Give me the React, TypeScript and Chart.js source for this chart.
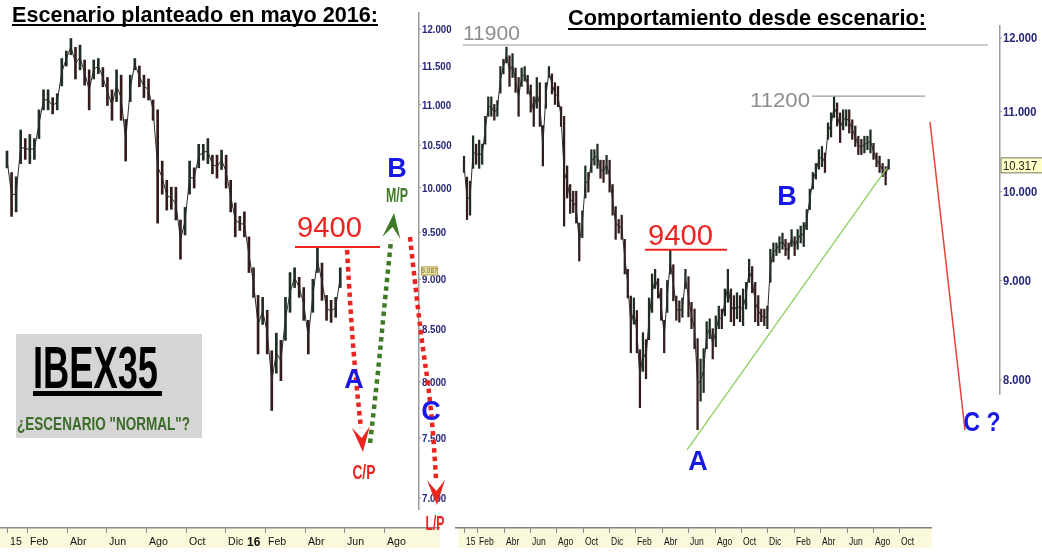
import React, { useEffect, useRef } from 'react';
import { Chart, registerables } from 'chart.js';

Chart.register(...registerables);

// ---------------- data (weekly IBEX 35 ranges, first week = 2 Jan 2015) ----------------
const WEEK_HIGH = [
  10430, 10175, 10125, 10685, 10580, 10630, 10580, 10935, 11190, 11190,
  11090, 11140, 11600, 11700, 11870, 11750, 11780, 11580, 11450, 11580,
  11600, 11480, 11350, 11190, 11450, 11380, 10815, 11380, 11600, 11500,
  11380, 11330, 11060, 10935, 10310, 10085, 10005, 10005, 9635, 9775,
  10310, 10230, 10510, 10510, 10580, 10380, 10380, 10440, 10380, 10085,
  9825, 9675, 9725, 9450, 9120, 8835, 8815, 8685, 8290, 8460,
  8390, 8815, 9070, 9120, 9020, 8915, 8585, 9000, 9330, 9170,
  8835, 8785, 8815, 9120,
  9040, 8770, 8700, 8400, 8200, 8300, 8570, 8600, 8500, 8630,
  8730, 8700, 8910, 9120, 8910, 8840, 8870, 8840, 8910, 8980,
  9230, 9150, 8980, 8840, 8700, 8700, 8730, 9340, 9410, 9410,
  9480, 9520, 9450, 9410, 9560, 9480, 9560, 9600, 9640, 9790,
  10030, 10230, 10340, 10510, 10550, 10470, 10850, 10980, 11190, 11110,
  10980, 11020, 11020, 11020, 10890, 10810, 10680, 10640, 10680, 10680,
  10760, 10590, 10470, 10430, 10340, 10300, 10390,
];
const WEEK_LOW = [
  10230, 9675, 9725, 10280, 10330, 10280, 10330, 10580, 10935, 10935,
  10885, 10935, 11240, 11500, 11650, 11330, 11450, 11250, 10935, 11330,
  11400, 11230, 10990, 10805, 11040, 10805, 10310, 11040, 11450, 11230,
  11090, 11060, 10805, 9600, 9925, 9745, 9755, 9635, 9210, 9470,
  9925, 9995, 10230, 10320, 10280, 10160, 10110, 10210, 9995, 9725,
  9450, 9520, 9450, 9070, 8815, 8260, 8545, 8260, 7740, 8080,
  8010, 8390, 8665, 8915, 8815, 8585, 8260, 8665, 9070, 8785,
  8585, 8565, 8615, 8915,
  8620, 8500, 8300, 7540, 7800, 7880, 8300, 8400, 8200, 8320,
  8500, 8500, 8630, 8770, 8570, 8530, 8600, 8570, 8530, 8700,
  8980, 8870, 8570, 8530, 8570, 8530, 8500, 8980, 9200, 9270,
  9300, 9340, 9270, 9230, 9370, 9270, 9340, 9410, 9370, 9560,
  9790, 10030, 10150, 10270, 10300, 10230, 10640, 10670, 10920, 10810,
  10600, 10760, 10810, 10720, 10640, 10550, 10450, 10450, 10470, 10510,
  10470, 10390, 10300, 10230, 10180, 10080, 10270,
];
const LEFT_LAST_WEEK = 73; // scenario drawn at end of May 2016
const WEEKS_PER_YEAR = 52.18;

// x values are months since 1 Jan 2015
const LEFT_TICK_MONTHS = [0, 1, 3, 5, 7, 9, 11, 12, 13, 15, 17, 19];
const LEFT_TICK_LABELS = ['15', 'Feb', 'Abr', 'Jun', 'Ago', 'Oct', 'Dic', '16', 'Feb', 'Abr', 'Jun', 'Ago'];
const RIGHT_TICK_MONTHS = [0, 1, 3, 5, 7, 9, 11, 13, 15, 17, 19, 21, 23, 25, 27, 29, 31, 33];
const RIGHT_TICK_LABELS = ['15', 'Feb', 'Abr', 'Jun', 'Ago', 'Oct', 'Dic', 'Feb', 'Abr', 'Jun', 'Ago', 'Oct', 'Dic', 'Feb', 'Abr', 'Jun', 'Ago', 'Oct'];
const LEFT_PRICE_TICKS = [12000, 11500, 11000, 10500, 10000, 9500, 9000, 8500, 8000, 7500, 7000];
const RIGHT_PRICE_TICKS = [12000, 11000, 10000, 9000, 8000];
const LEFT_LAST_PRICE = 9087;
const RIGHT_LAST_PRICE = 10317;

// annotations, in [month, price]
const LEFT_LEVEL_9400 = [[14.51, 9340], [18.79, 9340]];
const LEFT_PATH_A = [[17.13, 9309], [17.33, 8588], [17.58, 8016], [17.83, 7585]];
const LEFT_TIP_A = [17.93, 7380];
const LEFT_PATH_B = [[18.29, 7456], [18.64, 7988], [19.04, 8788], [19.35, 9417]];
const LEFT_TIP_B = [19.5, 9713];
const LEFT_PATH_C = [[20.3, 9448], [20.65, 8787], [20.96, 8296], [21.21, 7988], [21.46, 7568], [21.61, 7161]];
const LEFT_TIP_C = [21.66, 6943];

const RIGHT_LEVEL_11900 = [[-0.08, 11900], [39.73, 11900]];
const RIGHT_LEVEL_11200 = [[26.38, 11200], [34.95, 11200]];
const RIGHT_LEVEL_9400 = [[13.72, 9335], [19.94, 9335]];
const RIGHT_TREND = [[16.91, 7361], [32.07, 10285]];
const RIGHT_C_LINE = [[35.33, 10862], [37.98, 7537]];

const FONT = "'Liberation Sans', Arial, Helvetica, sans-serif";
const RED = '#ec2420';
const BLUE = '#1717e6';
const GREEN = '#3f7b27';
const NAVY = '#25257a';
const RIGHT_OFFSET = 455;

type Note = { text: string; at: number[]; anchor: 'left' | 'center' | 'right'; kind: string; width?: number };

const LEFT_NOTES: Note[] = [
  { text: '9400', at: [14.61, 9557], anchor: 'left', kind: 'level', width: 65 },
  { text: 'A', at: [17.48, 8035], anchor: 'center', kind: 'wave' },
  { text: 'C/P', at: [17.98, 7212], anchor: 'center', kind: 'redTag', width: 23 },
  { text: 'M/P', at: [19.65, 9916], anchor: 'center', kind: 'greenTag', width: 22 },
  { text: 'B', at: [19.65, 10240], anchor: 'center', kind: 'wave' },
  { text: 'C', at: [21.36, 7745], anchor: 'center', kind: 'wave' },
  { text: 'L/P', at: [21.56, 6802], anchor: 'center', kind: 'redTag', width: 19 },
];
const RIGHT_NOTES: Note[] = [
  { text: '11900', at: [-0.08, 12071], anchor: 'left', kind: 'grey', width: 57 },
  { text: '11200', at: [26.23, 11149], anchor: 'right', kind: 'grey', width: 60 },
  { text: '9400', at: [13.95, 9499], anchor: 'left', kind: 'level', width: 65 },
  { text: 'B', at: [24.49, 9961], anchor: 'center', kind: 'wave' },
  { text: 'A', at: [17.74, 7274], anchor: 'center', kind: 'wave' },
  { text: 'C ?', at: [39.27, 7619], anchor: 'center', kind: 'wave', width: 37 },
];

// ---------------- helpers ----------------
function txt(ctx: CanvasRenderingContext2D, text: string, x: number, cy: number, size: number, weight: string,
  color: string, anchor: string = 'left', width?: number, sx: number = 1) {
  ctx.save();
  ctx.font = `${weight} ${size}px ${FONT}`;
  const natural = ctx.measureText(text).width;
  const scale = width ? width / natural : sx;
  const w = natural * scale;
  const left = anchor === 'left' ? x : anchor === 'right' ? x - w : x - w / 2;
  ctx.translate(left, cy + size * 0.358);
  ctx.scale(scale, 1);
  ctx.fillStyle = color;
  ctx.textAlign = 'left';
  ctx.textBaseline = 'alphabetic';
  ctx.fillText(text, 0, 0);
  ctx.restore();
}

function fmt(v: number) {
  return Math.floor(v / 1000) + '.' + String(Math.round(v % 1000)).padStart(3, '0');
}

function pt(chart: any, p: number[]) {
  return { x: chart.scales.x.getPixelForValue(p[0]), y: chart.scales.y.getPixelForValue(p[1]) };
}

function arrowHead(ctx: CanvasRenderingContext2D, from: any, tip: any, color: string) {
  const a = Math.atan2(tip.y - from.y, tip.x - from.x);
  ctx.save();
  ctx.translate(tip.x, tip.y);
  ctx.rotate(a);
  ctx.beginPath();
  ctx.moveTo(0, 0);
  ctx.lineTo(-25, -9);
  ctx.lineTo(-14, 0);
  ctx.lineTo(-25, 9);
  ctx.closePath();
  ctx.fillStyle = color;
  ctx.fill();
  ctx.restore();
}

// dotted scenario path through scale positions, smoothed with quadratic midpoints
function dottedPath(chart: any, path: number[][], tip: number[], color: string) {
  const ctx = chart.ctx;
  const p = path.map((q) => pt(chart, q));
  ctx.save();
  ctx.strokeStyle = color;
  ctx.lineWidth = 4.5;
  ctx.setLineDash([4.5, 4]);
  ctx.lineCap = 'butt';
  ctx.beginPath();
  ctx.moveTo(p[0].x, p[0].y);
  for (let i = 1; i < p.length - 1; i++) {
    const mx = (p[i].x + p[i + 1].x) / 2;
    const my = (p[i].y + p[i + 1].y) / 2;
    ctx.quadraticCurveTo(p[i].x, p[i].y, mx, my);
  }
  ctx.lineTo(p[p.length - 1].x, p[p.length - 1].y);
  ctx.stroke();
  ctx.restore();
  arrowHead(ctx, p[p.length - 1], pt(chart, tip), color);
}

function drawNotes(chart: any, notes: Note[]) {
  const ctx = chart.ctx;
  notes.forEach((n) => {
    const p = pt(chart, n.at);
    if (n.kind === 'level') txt(ctx, n.text, p.x, p.y, 29, 'normal', RED, n.anchor, n.width);
    else if (n.kind === 'grey') txt(ctx, n.text, p.x, p.y, 20, 'normal', '#8e8e8e', n.anchor, n.width);
    else if (n.kind === 'wave') txt(ctx, n.text, p.x, p.y, 27, 'bold', BLUE, n.anchor, n.width);
    else if (n.kind === 'redTag') txt(ctx, n.text, p.x, p.y, 20, 'bold', RED, n.anchor, n.width);
    else if (n.kind === 'greenTag') txt(ctx, n.text, p.x, p.y, 20, 'bold', GREEN, n.anchor, n.width);
  });
}

function toPoints(arr: number[][]) {
  return arr.map(([m, v]) => ({ x: m, y: v }));
}

function weekX(w: number) {
  return (w * 12) / WEEKS_PER_YEAR;
}

function barDataset(last: number, thickness: number) {
  const data: any[] = [];
  const colors: string[] = [];
  for (let w = 0; w <= last; w++) {
    data.push({ x: weekX(w), y: [WEEK_LOW[w], WEEK_HIGH[w]] });
    const up = w === 0 || WEEK_HIGH[w] + WEEK_LOW[w] >= WEEK_HIGH[w - 1] + WEEK_LOW[w - 1];
    colors.push(up ? '#1e2e22' : '#341c1c');
  }
  return { type: 'bar', data, backgroundColor: colors, borderWidth: 0, barThickness: thickness, order: 10 };
}

// thin trace joining the middle of each weekly range, so the bars read as one price series
function midDataset(last: number) {
  const data: any[] = [];
  for (let w = 0; w <= last; w++) data.push({ x: weekX(w), y: Math.sqrt(WEEK_LOW[w] * WEEK_HIGH[w]) });
  return { type: 'line', data, borderColor: '#2a2a2a', borderWidth: 1, pointRadius: 0, tension: 0, fill: false, order: 9 };
}

function lineDataset(arr: number[][], color: string, width: number) {
  return {
    type: 'line',
    data: toPoints(arr),
    borderColor: color,
    borderWidth: width,
    tension: 0,
    pointRadius: 0,
    fill: false,
    clip: false,
    order: 0,
  };
}

function baseOptions(xmin: number, xmax: number, ymin: number, ymax: number, padding: any) {
  return {
    responsive: false,
    maintainAspectRatio: false,
    animation: false,
    devicePixelRatio: 1,
    events: [],
    layout: { padding },
    plugins: { legend: { display: false }, tooltip: { enabled: false } },
    scales: {
      x: { type: 'linear', display: false, min: xmin, max: xmax, bounds: 'data', offset: false },
      y: { type: 'logarithmic', display: false, min: ymin, max: ymax, bounds: 'data' },
    },
  };
}

// ---------------- left chart ----------------
const leftOverlay = {
  id: 'leftOverlay',
  beforeDraw(chart: any) {
    const { ctx, chartArea: a } = chart;
    const xs = chart.scales.x;
    const ys = chart.scales.y;
    ctx.save();
    ctx.fillStyle = '#fbf9dc';
    ctx.fillRect(0, a.bottom, 440, 21);
    ctx.fillStyle = '#8b8b8b';
    ctx.fillRect(0, a.bottom, 440, 1.5);
    LEFT_TICK_MONTHS.forEach((m, i) => {
      const px = Math.round(xs.getPixelForValue(m));
      const lab = LEFT_TICK_LABELS[i];
      const isYear = lab === '16';
      if (!isYear) {
        ctx.fillStyle = '#8b8b8b';
        ctx.fillRect(px, a.bottom, 1, 6);
      }
      txt(ctx, lab, px + (isYear ? 2 : 3), 541, isYear ? 13 : 11.5, isYear ? 'bold' : 'normal', '#111', 'left', undefined, 0.92);
    });
    const ax = a.right;
    ctx.fillStyle = '#9c9c9c';
    ctx.fillRect(ax, a.top, 1.5, 510 - a.top);
    LEFT_PRICE_TICKS.forEach((v) => {
      const py = ys.getPixelForValue(v);
      ctx.fillStyle = '#9c9c9c';
      ctx.fillRect(ax, py - 0.5, 3, 1);
      txt(ctx, fmt(v), ax + 4, py, 11, 'bold', NAVY, 'left', undefined, 0.88);
    });
    const tp = ys.getPixelForValue(LEFT_LAST_PRICE);
    ctx.fillStyle = '#e9e1a6';
    ctx.fillRect(ax + 3, tp - 4.5, 17, 9);
    ctx.strokeStyle = '#b5a55a';
    ctx.lineWidth = 1;
    ctx.strokeRect(ax + 3.5, tp - 4, 16, 8);
    txt(ctx, fmt(LEFT_LAST_PRICE), ax + 11.5, tp, 6.5, 'normal', '#7a6a30', 'center');
    ctx.restore();
  },
  afterDatasetsDraw(chart: any) {
    const ctx = chart.ctx;
    ctx.save();
    dottedPath(chart, LEFT_PATH_A, LEFT_TIP_A, RED);
    dottedPath(chart, LEFT_PATH_B, LEFT_TIP_B, GREEN);
    dottedPath(chart, LEFT_PATH_C, LEFT_TIP_C, RED);
    drawNotes(chart, LEFT_NOTES);
    // IBEX35 box
    ctx.fillStyle = '#d5d5d5';
    ctx.fillRect(16, 334, 186, 104);
    txt(ctx, 'IBEX35', 33, 366.5, 60, 'bold', '#000', 'left', 125);
    ctx.fillStyle = '#000';
    ctx.fillRect(33, 391, 129, 5);
    txt(ctx, '¿ESCENARIO "NORMAL"?', 17, 423.5, 18, 'bold', '#3c6b2a', 'left', 173);
    // title
    txt(ctx, 'Escenario planteado en mayo 2016:', 12, 14.3, 21.5, 'bold', '#000', 'left', 366);
    ctx.fillStyle = '#000';
    ctx.fillRect(12, 24, 366, 2);
    ctx.restore();
  },
};

function leftConfig(): any {
  return {
    type: 'bar',
    data: {
      datasets: [
        barDataset(LEFT_LAST_WEEK, 2),
        midDataset(LEFT_LAST_WEEK),
        lineDataset(LEFT_LEVEL_9400, RED, 2),
      ],
    },
    options: baseOptions(-0.3526, 20.705, 6770, 12237, { top: 12, bottom: 25, left: 0, right: 42 }),
    plugins: [leftOverlay],
  };
}

// ---------------- right chart ----------------
const rightOverlay = {
  id: 'rightOverlay',
  beforeDraw(chart: any) {
    const { ctx, chartArea: a } = chart;
    const xs = chart.scales.x;
    const ys = chart.scales.y;
    const o = RIGHT_OFFSET;
    ctx.save();
    ctx.fillStyle = '#fbf9dc';
    ctx.fillRect(458 - o, a.bottom, 474, 21);
    ctx.fillStyle = '#7f7f7f';
    ctx.fillRect(455 - o, a.bottom, 477, 1.5);
    RIGHT_TICK_MONTHS.forEach((m, i) => {
      const px = Math.round(xs.getPixelForValue(m));
      ctx.fillStyle = '#8b8b8b';
      ctx.fillRect(px, a.bottom, 1, 6);
      txt(ctx, RIGHT_TICK_LABELS[i], px + 2, 541, 11.5, 'normal', '#111', 'left', undefined, 0.74);
    });
    const ax = a.right;
    ctx.fillStyle = '#9c9c9c';
    ctx.fillRect(ax, a.top, 1.5, 395 - a.top);
    RIGHT_PRICE_TICKS.forEach((v) => {
      const py = ys.getPixelForValue(v);
      ctx.fillStyle = '#9c9c9c';
      ctx.fillRect(ax, py - 0.5, 3, 1);
      txt(ctx, fmt(v), ax + 4, py, 12, 'bold', NAVY, 'left', undefined, 0.93);
    });
    const tp = ys.getPixelForValue(RIGHT_LAST_PRICE);
    ctx.fillStyle = '#ffffc6';
    ctx.fillRect(ax + 1.5, tp - 8, 50, 16);
    ctx.strokeStyle = '#777';
    ctx.lineWidth = 1;
    ctx.strokeRect(ax + 2, tp - 7.5, 50, 15);
    txt(ctx, fmt(RIGHT_LAST_PRICE), ax + 4, tp, 12, 'normal', '#222', 'left', undefined, 0.93);
    ctx.restore();
  },
  afterDatasetsDraw(chart: any) {
    const ctx = chart.ctx;
    const o = RIGHT_OFFSET;
    ctx.save();
    drawNotes(chart, RIGHT_NOTES);
    txt(ctx, 'Comportamiento desde escenario:', 568 - o, 17.1, 22, 'bold', '#000', 'left', 358);
    ctx.fillStyle = '#000';
    ctx.fillRect(568 - o, 28, 358, 2);
    ctx.restore();
  },
};

function rightConfig(): any {
  return {
    type: 'bar',
    data: {
      datasets: [
        barDataset(WEEK_HIGH.length - 1, 1.6),
        midDataset(WEEK_HIGH.length - 1),
        lineDataset(RIGHT_LEVEL_11900, '#9a9a9a', 1.2),
        lineDataset(RIGHT_LEVEL_11200, '#9a9a9a', 1.2),
        lineDataset(RIGHT_LEVEL_9400, RED, 2),
        lineDataset(RIGHT_TREND, '#8ccf5e', 1.3),
        lineDataset(RIGHT_C_LINE, '#e8403a', 1.5),
      ],
    },
    options: baseOptions(-0.682, 40.561, 6718, 12186, { top: 25, bottom: 25, left: 0, right: 43 }),
    plugins: [rightOverlay],
  };
}

export default function App() {
  const leftRef = useRef<HTMLCanvasElement>(null);
  const rightRef = useRef<HTMLCanvasElement>(null);
  useEffect(() => {
    const l = new Chart(leftRef.current as HTMLCanvasElement, leftConfig());
    const r = new Chart(rightRef.current as HTMLCanvasElement, rightConfig());
    return () => {
      l.destroy();
      r.destroy();
    };
  }, []);
  return (
    <div style={{ position: 'fixed', left: 0, top: 0, width: 1042, height: 552, background: '#fff', overflow: 'hidden' }}>
      <canvas ref={leftRef} width={460} height={552} style={{ position: 'absolute', left: 0, top: 0, width: 460, height: 552 }} />
      <canvas ref={rightRef} width={587} height={552} style={{ position: 'absolute', left: RIGHT_OFFSET, top: 0, width: 587, height: 552 }} />
    </div>
  );
}
